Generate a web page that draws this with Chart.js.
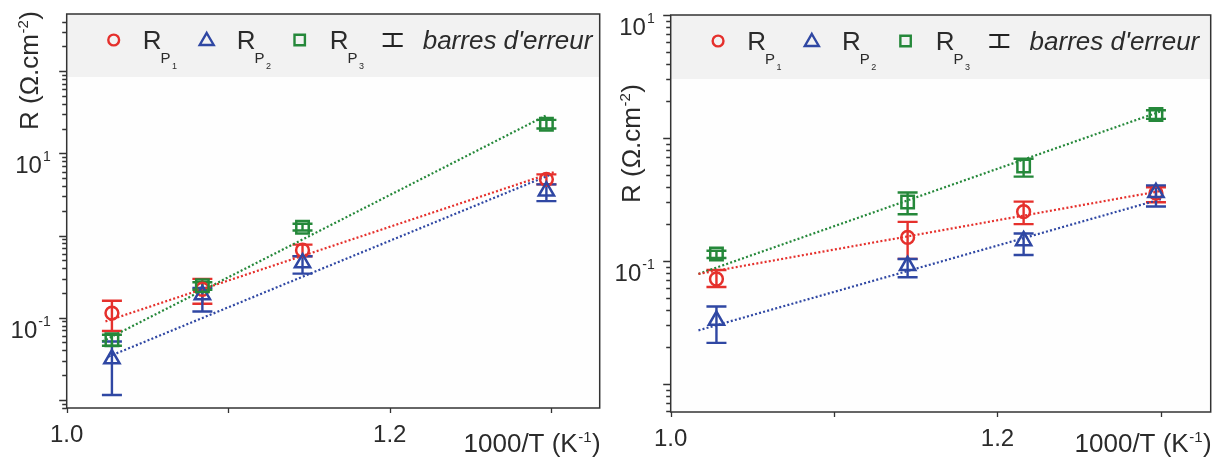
<!DOCTYPE html>
<html>
<head>
<meta charset="utf-8">
<script src="https://cdn.jsdelivr.net/npm/chart.js@4.4.1/dist/chart.umd.min.js"></script>
<style>
  body { margin: 0; background: #fff; }
  #wrap { position: relative; width: 1222px; height: 459px; }
  #wrap canvas { position: absolute; top: 0; }
</style>
</head>
<body>
<div id="wrap">
  <canvas id="left" width="611" height="459" style="left:0"></canvas>
  <canvas id="right" width="611" height="459" style="left:611px"></canvas>
</div>
<script>
// ---- data ----
var seriesSubs = ['1', '2', '3'];           // R_P1, R_P2, R_P3
var errorLabel = "barres d'erreur";
var xTickValues = [1.0, 1.1, 1.2, 1.3];
var xTickLabels = ['1.0', '', '1.2', ''];
var yLabelValues = [10, 0.1];
var yLabelExps = ['1', '-1'];

// left panel
var leftX = [1.028, 1.084, 1.146, 1.297];
var leftP1 = [0.114, 0.222, 0.662, 4.82];
var leftP1Hi = [0.161, 0.297, 0.776, 5.54];
var leftP1Lo = [0.069, 0.148, 0.560, 4.19];
var leftP2 = [0.0316, 0.190, 0.464, 3.47];
var leftP2Hi = [0.0514, 0.230, 0.560, 4.19];
var leftP2Lo = [0.0115, 0.119, 0.344, 2.62];
var leftP3 = [0.054, 0.245, 1.26, 22.6];
var leftP3Hi = [0.062, 0.270, 1.39, 25.5];
var leftP3Lo = [0.0456, 0.219, 1.15, 20.0];
var leftFit1X = [1.024, 1.302], leftFit1Y = [0.0902, 5.92];
var leftFit2X = [1.026, 1.300], leftFit2Y = [0.0337, 5.55];
var leftFit3X = [1.022, 1.297], leftFit3Y = [0.0514, 29.0];
var leftXRange = [1.0, 1.33];
var leftYRange = [0.00798, 495];

// right panel
var rightX = [1.028, 1.145, 1.216, 1.297];
var rightP1 = [0.0714, 0.1556, 0.252, 0.356];
var rightP1Hi = [0.0845, 0.208, 0.304, 0.398];
var rightP1Lo = [0.0615, 0.104, 0.1995, 0.300];
var rightP2 = [0.0329, 0.0917, 0.146, 0.360];
var rightP2Hi = [0.0427, 0.1038, 0.1675, 0.412];
var rightP2Lo = [0.0216, 0.0738, 0.112, 0.277];
var rightP3 = [0.114, 0.302, 0.591, 1.55];
var rightP3Hi = [0.121, 0.360, 0.679, 1.68];
var rightP3Lo = [0.1057, 0.240, 0.485, 1.43];
var rightFit1X = [1.017, 1.300], rightFit1Y = [0.0785, 0.371];
var rightFit2X = [1.017, 1.300], rightFit2Y = [0.0273, 0.318];
var rightFit3X = [1.017, 1.300], rightFit3Y = [0.0785, 1.648];
var rightXRange = [1.0, 1.3305];
var rightYRange = [0.00592, 10];

// ---- styles ----
var COLORS = ['#e5302c', '#2f47a3', '#25883a'];
var SHAPES = ['circle', 'triangle', 'rect'];
var RADII = [6.4, 8.8, 8.8];
var FONT = '"Liberation Sans", Arial, sans-serif';
var INK = '#2b2b2b';

function pts(xs, ys) {
  return xs.map(function(x, i) { return { x: x, y: ys[i] }; });
}

function legendMarker(ctx, shape, x, y, color) {
  ctx.save();
  ctx.strokeStyle = color;
  ctx.lineWidth = 2.4;
  ctx.beginPath();
  if (shape === 'circle') {
    ctx.arc(x, y, 5.4, 0, Math.PI * 2);
  } else if (shape === 'triangle') {
    ctx.moveTo(x, y - 7); ctx.lineTo(x + 7, y + 5); ctx.lineTo(x - 7, y + 5); ctx.closePath();
  } else {
    ctx.rect(x - 5.2, y - 5.2, 10.4, 10.4);
  }
  ctx.stroke();
  ctx.restore();
}

function supText(ctx, parts, x, y) {
  // parts: [[text, size, dy, gap], ...] drawn left to right
  var cx = x;
  parts.forEach(function(p) {
    ctx.font = p[1] + 'px ' + FONT;
    ctx.fillText(p[0], cx, y + p[2]);
    cx += ctx.measureText(p[0]).width + (p[3] || 0);
  });
  return cx - x;
}

function measureParts(ctx, parts) {
  var w = 0;
  parts.forEach(function(p) {
    ctx.font = p[1] + 'px ' + FONT;
    w += ctx.measureText(p[0]).width + (p[3] || 0);
  });
  return w;
}

var panelPlugin = {
  id: 'panel',
  beforeDatasetsDraw: function(chart) {
    var ctx = chart.ctx, ca = chart.chartArea, xs = chart.scales.x, ys = chart.scales.y;
    var o = chart.options.plugins.panel;
    ctx.save();
    ctx.fillStyle = '#fefefe';
    ctx.fillRect(ca.left, ca.top, ca.right - ca.left, ca.bottom - ca.top);
    ctx.fillStyle = '#f2f2f2';
    ctx.fillRect(ca.left, ca.top, ca.right - ca.left, o.bandHeight);

    // error bars
    ctx.lineWidth = 2.4;
    chart.data.datasets.forEach(function(ds) {
      if (!ds.errHi) return;
      ctx.strokeStyle = ds.borderColor;
      ds.data.forEach(function(p, j) {
        var px = xs.getPixelForValue(p.x);
        var yh = ys.getPixelForValue(ds.errHi[j]);
        var yl = ys.getPixelForValue(ds.errLo[j]);
        ctx.beginPath();
        ctx.moveTo(px, yh); ctx.lineTo(px, yl);
        ctx.moveTo(px - 10, yh); ctx.lineTo(px + 10, yh);
        ctx.moveTo(px - 10, yl); ctx.lineTo(px + 10, yl);
        ctx.stroke();
      });
    });
    ctx.restore();
  },
  afterDraw: function(chart) {
    var ctx = chart.ctx, ca = chart.chartArea, xs = chart.scales.x, ys = chart.scales.y;
    var o = chart.options.plugins.panel;
    ctx.save();
    ctx.strokeStyle = '#333';
    ctx.fillStyle = INK;
    ctx.lineWidth = 1.5;
    ctx.strokeRect(ca.left, ca.top, ca.right - ca.left, ca.bottom - ca.top);

    // y ticks (log, outward)
    var e0 = Math.floor(Math.log10(ys.min)), e1 = Math.ceil(Math.log10(ys.max));
    ctx.lineWidth = 1.3;
    ctx.beginPath();
    for (var e = e0; e <= e1; e++) {
      for (var m = 1; m <= 9; m++) {
        var v = m * Math.pow(10, e);
        if (v < ys.min || v > ys.max * 1.0001) continue;
        var py = Math.round(ys.getPixelForValue(v)) + 0.5;
        var len = m === 1 ? 7.5 : 4.5;
        ctx.moveTo(ca.left - len, py); ctx.lineTo(ca.left, py);
      }
    }
    // x ticks (downward)
    xTickValues.forEach(function(v) {
      var px = Math.round(xs.getPixelForValue(v)) + 0.5;
      ctx.moveTo(px, ca.bottom); ctx.lineTo(px, ca.bottom + 5);
    });
    ctx.stroke();

    ctx.textBaseline = 'alphabetic';
    // x tick labels
    ctx.textAlign = 'center';
    ctx.font = '24px ' + FONT;
    xTickValues.forEach(function(v, i) {
      if (!xTickLabels[i]) return;
      ctx.fillText(xTickLabels[i], xs.getPixelForValue(v), ca.bottom + 34);
    });

    // y tick labels 10^n
    ctx.textAlign = 'left';
    yLabelValues.forEach(function(v, i) {
      var py = ys.getPixelForValue(v);
      var parts = [['10', 24, 20, 1], [yLabelExps[i], 14, 8]];
      var w = measureParts(ctx, parts);
      supText(ctx, parts, ca.left - 16 - w, py);
    });

    // x title (right aligned)
    var xt = [['1000/T (K', 26, 0, 0.5], ['-1', 15, -10, 0.5], [')', 26, 0]];
    var wx = measureParts(ctx, xt);
    supText(ctx, xt, ca.right + 1 - wx, chart.height - 7);

    // y title (rotated)
    ctx.save();
    ctx.translate(ca.left + o.yTitleDx, o.yTitleStart);
    ctx.rotate(-Math.PI / 2);
    supText(ctx, [['R (\u03A9.cm', 26, 0, 0.5], ['-2', 15, -10, 0.5], [')', 26, 0]], 0, 0);
    ctx.restore();

    // legend
    var ly = ca.top + 26, base = ca.top + 35;
    var lx = ca.left + o.legendDx;
    var markerX = [47, 140, 233], textX = [76, 170, 263];
    for (var s = 0; s < 3; s++) {
      legendMarker(ctx, SHAPES[s], lx + markerX[s] * o.legendScale, ly, COLORS[s]);
      var tx = lx + textX[s] * o.legendScale;
      ctx.fillStyle = INK;
      ctx.font = '26px ' + FONT;
      ctx.fillText('R', tx, base);
      var wr = ctx.measureText('R').width;
      ctx.font = '15px ' + FONT;
      ctx.fillText('P', tx + wr - 1, base + 14);
      var wp = ctx.measureText('P').width;
      ctx.font = '9px ' + FONT;
      ctx.fillText(seriesSubs[s], tx + wr + wp + 0.5, base + 20);
    }
    // error bar symbol
    var ix = lx + 326 * o.legendScale;
    ctx.strokeStyle = '#222';
    ctx.lineWidth = 2.2;
    ctx.beginPath();
    ctx.moveTo(ix - 10, ly - 6); ctx.lineTo(ix + 10, ly - 6);
    ctx.moveTo(ix, ly - 6); ctx.lineTo(ix, ly + 6);
    ctx.moveTo(ix - 10, ly + 6); ctx.lineTo(ix + 10, ly + 6);
    ctx.stroke();
    ctx.fillStyle = INK;
    ctx.font = 'italic 26px ' + FONT;
    ctx.fillText(errorLabel, lx + 356 * o.legendScale, base);

    ctx.restore();
  }
};

function makePanel(id, p) {
  var datasets = [];
  for (var i = 0; i < 3; i++) {
    datasets.push({
      type: 'scatter',
      label: 'R_P' + seriesSubs[i],
      data: pts(p.x, p.y[i]),
      errHi: p.hi[i],
      errLo: p.lo[i],
      showLine: false,
      pointStyle: SHAPES[i],
      pointRadius: RADII[i],
      pointBorderWidth: 2.5,
      borderColor: COLORS[i],
      pointBorderColor: COLORS[i],
      backgroundColor: 'rgba(0,0,0,0)',
      pointBackgroundColor: 'rgba(0,0,0,0)',
      order: 3 - i   // green on top, red underneath
    });
  }
  for (var k = 0; k < 3; k++) {
    datasets.push({
      type: 'line',
      label: 'fit P' + seriesSubs[k],
      data: pts(p.fitX[k], p.fitY[k]),
      borderColor: COLORS[k],
      borderWidth: 2.2,
      borderDash: [2, 2.2],
      pointRadius: 0,
      fill: false,
      order: 10
    });
  }
  return new Chart(document.getElementById(id), {
    type: 'scatter',
    data: { datasets: datasets },
    options: {
      responsive: false,
      animation: false,
      devicePixelRatio: 1,
      layout: { padding: p.padding },
      plugins: {
        legend: { display: false },
        tooltip: { enabled: false },
        panel: p.opts
      },
      scales: {
        x: { type: 'linear', display: false, min: p.xRange[0], max: p.xRange[1] },
        y: { type: 'logarithmic', display: false, min: p.yRange[0], max: p.yRange[1] }
      }
    },
    plugins: [panelPlugin]
  });
}

makePanel('left', {
  x: leftX,
  y: [leftP1, leftP2, leftP3],
  hi: [leftP1Hi, leftP2Hi, leftP3Hi],
  lo: [leftP1Lo, leftP2Lo, leftP3Lo],
  fitX: [leftFit1X, leftFit2X, leftFit3X],
  fitY: [leftFit1Y, leftFit2Y, leftFit3Y],
  xRange: leftXRange,
  yRange: leftYRange,
  padding: { left: 66.7, top: 14, right: 6, bottom: 51 },
  opts: { bandHeight: 63, yTitleDx: -28.5, yTitleStart: 130, legendDx: 0, legendScale: 1 }
});

makePanel('right', {
  x: rightX,
  y: [rightP1, rightP2, rightP3],
  hi: [rightP1Hi, rightP2Hi, rightP3Hi],
  lo: [rightP1Lo, rightP2Lo, rightP3Lo],
  fitX: [rightFit1X, rightFit2X, rightFit3X],
  fitY: [rightFit1Y, rightFit2Y, rightFit3Y],
  xRange: rightXRange,
  yRange: rightYRange,
  padding: { left: 59.7, top: 15, right: 10, bottom: 47 },
  opts: { bandHeight: 64, yTitleDx: -30.5, yTitleStart: 203, legendDx: 0, legendScale: 1.008 }
});
</script>
</body>
</html>
